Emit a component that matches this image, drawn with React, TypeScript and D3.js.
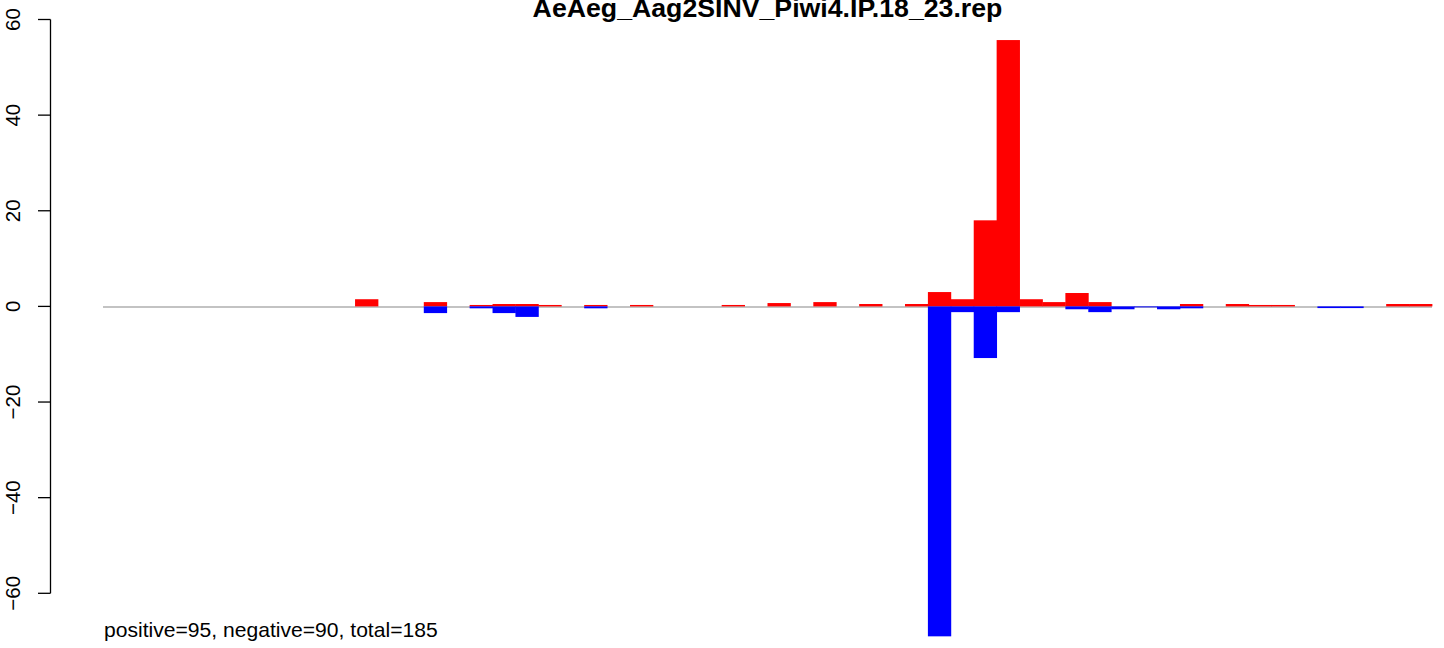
import React from "react";
import * as d3 from "d3";

const title = "AeAeg_Aag2SINV_Piwi4.IP.18_23.rep";
const footnote = "positive=95, negative=90, total=185";
const yTicks = [-60, -40, -20, 0, 20, 40, 60];

// 58 positions, index 0..57
const positiveValues = [
  0, 0, 0, 0, 0, 0, 0, 0, 0, 0,
  0, 1.5, 0, 0, 0.9, 0, 0.3, 0.5, 0.5, 0.3,
  0, 0.3, 0, 0.3, 0, 0, 0, 0.3, 0, 0.7,
  0, 0.9, 0, 0.5, 0, 0.5, 3.0, 1.5, 18.0, 55.7,
  1.5, 0.9, 2.8, 0.9, 0, 0, 0, 0.5, 0, 0.5,
  0.3, 0.3, 0, 0, 0, 0, 0.5, 0.5,
];
const negativeValues = [
  0, 0, 0, 0, 0, 0, 0, 0, 0, 0,
  0, 0, 0, 0, -1.4, 0, -0.4, -1.4, -2.2, 0,
  0, -0.4, 0, 0, 0, 0, 0, 0, 0, 0,
  0, 0, 0, 0, 0, 0, -69, -1.2, -10.8, -1.2,
  0, 0, -0.6, -1.2, -0.6, -0.2, -0.6, -0.4, 0, 0,
  0, 0, 0, -0.35, -0.35, 0, 0, 0,
];

export default function App() {
  const W = 1444, H = 648;
  const idx = d3.range(positiveValues.length);
  const x = d3.scaleBand<number>().domain(idx).range([103, 1432]).padding(0);
  const y = d3.scaleLinear().domain([-60, 60]).range([593.3, 19.5]);
  const y0 = y(0);
  const font = "'Liberation Sans', Arial, Helvetica, sans-serif";
  return (
    <svg width={W} height={H} style={{ position: "absolute", left: 0, top: 0, background: "#fff" }}>
      <line x1={103} x2={1432} y1={y0 + 0.6} y2={y0 + 0.6} stroke="#888" strokeWidth={1.2} />
      <g>
        {idx.map((i) =>
          positiveValues[i] > 0 ? (
            <rect key={"p" + i} x={x(i)} width={x.bandwidth() + 0.4} y={y(positiveValues[i])}
              height={y0 - y(positiveValues[i])} fill="#ff0000" />
          ) : null
        )}
        {idx.map((i) =>
          negativeValues[i] < 0 ? (
            <rect key={"n" + i} x={x(i)} width={x.bandwidth() + 0.4} y={y0}
              height={y(negativeValues[i]) - y0} fill="#0000ff" />
          ) : null
        )}
      </g>
      <line x1={50.5} x2={50.5} y1={y(60)} y2={y(-60)} stroke="#000" strokeWidth={1.3} />
      {yTicks.map((t) => (
        <g key={t}>
          <line x1={38} x2={50.5} y1={y(t)} y2={y(t)} stroke="#000" strokeWidth={1.3} />
          <text transform={`translate(20,${y(t)}) rotate(-90)`} textAnchor="middle"
            fontFamily={font} fontSize={20.5} fill="#000">
            {t < 0 ? "\u2212" + Math.abs(t) : String(t)}
          </text>
        </g>
      ))}
      <text x={767.5} y={17} textAnchor="middle" fontFamily={font} fontWeight="bold" fontSize={26.7} fill="#000">
        {title}
      </text>
      <text x={104} y={637} fontFamily={font} fontSize={21.1} fill="#000">
        {footnote}
      </text>
    </svg>
  );
}
